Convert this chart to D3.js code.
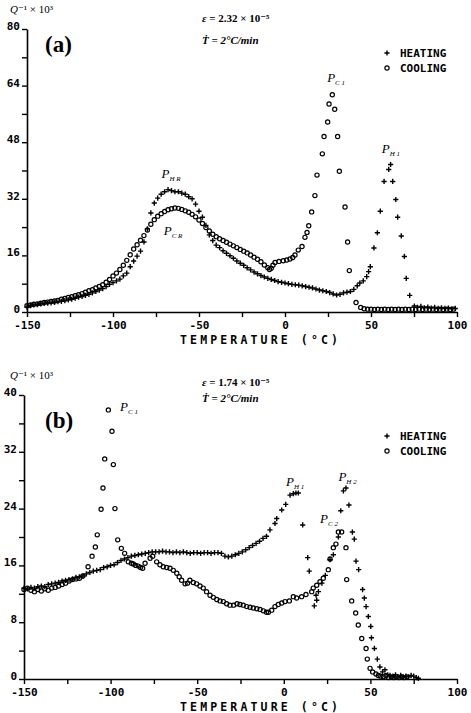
<!DOCTYPE html>
<html>
<head>
<meta charset="utf-8">
<script src="https://d3js.org/d3.v7.min.js"></script>
<style>
body { margin: 0; background: #fff; }
.tick text, .plot-font { font-family: "DejaVu Sans Mono", monospace; font-weight: bold; }
.serif { font-family: "Liberation Serif", "DejaVu Serif", serif; }
</style>
</head>
<body>
<svg id="chart"></svg>
<script>
// panel (a) data : [temperature (C), Q^-1 x 10^3]
var aHeat = [
  [-150,1.4],[-148,1.8],[-146,2.0],[-144,2.1],[-142,2.3],[-140,2.4],[-138,2.5],[-136,2.6],[-134,2.7],[-132,2.9],
  [-130,3.0],[-128,3.2],[-126,3.4],[-124,3.6],[-122,3.9],[-120,4.2],[-118,4.4],[-116,4.7],[-114,5.0],[-112,5.4],
  [-110,5.8],[-108,6.2],[-106,6.6],[-104,7.2],[-102,7.8],[-100,8.3],[-98,8.8],[-96,9.3],[-94,10.2],[-92,11.0],
  [-90,12.8],[-88,14.4],[-86,15.8],[-84,17.2],[-82,19.8],[-80,23.5],[-78,28.0],[-76,30.8],[-74,32.2],[-72,33.3],
  [-70,34.0],[-68,34.6],[-66,34.3],[-64,34.0],[-62,34.0],[-60,33.6],[-58,33.3],[-56,32.6],[-54,32.0],[-52,30.5],
  [-50,28.5],[-48,26.8],[-46,24.5],[-44,21.8],[-42,20.2],[-40,18.9],[-38,18.2],[-36,17.3],[-34,16.6],[-32,15.9],
  [-30,15.2],[-28,14.4],[-26,13.8],[-24,13.2],[-22,12.5],[-20,11.9],[-18,11.3],[-16,10.8],[-14,10.3],[-12,9.9],
  [-10,9.5],[-8,9.2],[-6,8.9],[-4,8.6],[-2,8.4],[0,8.2],[2,8.0],[4,7.8],[6,7.7],[8,7.6],
  [10,7.4],[12,7.2],[14,7.0],[16,6.8],[18,6.5],[20,6.2],[22,6.0],[24,5.8],[26,5.5],[28,5.1],
  [30,4.8],[32,5.0],[34,5.4],[36,5.6],[38,5.8],[40,6.4],[42,7.4],[43.5,8.2],[45.5,8.8],[47.5,10.0],
  [48.6,11.4],[49.6,12.8],[51.7,18.1],[53.7,22.4],[55.4,28.5],[57.6,36.9],[60.3,40.3],[61.4,41.7],[62.6,36.9],[64.4,31.8],
  [65.5,26.8],[67.6,21.5],[69.4,15.7],[70.5,9.5],[72.5,4.7],[75.2,1.7],[77,1.3],[79,1.6],[81,1.2],[83,1.4],
  [85,1.1],[87,1.3],[89,1.0],[91,1.2],[93,1.0],[95,1.1],[97,0.9],[99,1.0]
];
var aCool = [
  [-150,1.8],[-148,2.0],[-146,2.2],[-144,2.3],[-142,2.5],[-140,2.7],[-138,2.8],[-136,3.0],[-134,3.1],[-132,3.3],
  [-130,3.6],[-128,3.8],[-126,4.1],[-124,4.3],[-122,4.6],[-120,4.9],[-118,5.2],[-116,5.6],[-114,6.0],[-112,6.3],
  [-110,6.8],[-108,7.2],[-106,7.7],[-104,8.4],[-102,9.2],[-100,10.2],[-98,11.0],[-96,12.0],[-94,13.2],[-92,14.6],
  [-90,16.2],[-88,17.8],[-86,19.0],[-84,20.3],[-82,21.6],[-80,23.2],[-78,24.8],[-76,26.1],[-74,27.1],[-72,27.8],
  [-70,28.4],[-68,28.9],[-66,29.2],[-64,29.4],[-62,29.3],[-60,29.0],[-58,28.6],[-56,28.2],[-54,27.6],[-52,26.9],
  [-50,26.0],[-48,25.0],[-46,23.9],[-44,22.9],[-42,22.0],[-40,21.3],[-38,20.7],[-36,20.2],[-34,19.7],[-32,19.2],
  [-30,18.7],[-28,18.2],[-26,17.7],[-24,17.2],[-22,16.7],[-20,16.1],[-18,15.5],[-16,14.9],[-14,14.2],[-12,13.3],
  [-10,12.5],[-9,12.0],[-8,12.4],[-7,13.2],[-5.8,14.0],[-3.5,14.3],[-1,14.5],[1,14.7],[2.9,15.0],[4.5,15.4],
  [5.8,16.1],[7.7,17.5],[9.9,18.5],[11.6,21.1],[12.8,22.5],[13.8,24.4],[15.5,28.3],[17.4,32.9],[18.6,38.7],[21.7,44.7],
  [22.7,49.6],[24.8,53.7],[25.6,58.8],[27.5,61.4],[28.9,57.3],[30.6,49.6],[31.6,39.8],[34.9,29.7],[36.4,19.8],[37.4,11.7],
  [41.3,2.7],[44,1.3],[46,0.9],[48,0.8],[50,0.8],[52,0.7],[54,0.8],[56,0.7],[58,0.8],[60,0.7],
  [62,0.8],[64,0.7],[66,0.8],[68,0.7],[70,0.8],[72,0.7],[74,0.8],[76,0.7],[78,0.8],[80,0.7],
  [82,0.8],[84,0.7],[86,0.8],[88,0.7],[90,0.8],[92,0.7],[94,0.8],[96,0.7],[98,0.8]
];

// panel (b) data
var bHeat = [
  [-150,12.8],[-148,12.7],[-146,12.9],[-144,12.8],[-142,13.0],[-140,13.1],[-138,13.0],[-136,13.3],[-134,13.4],[-132,13.5],
  [-130,13.6],[-128,13.8],[-126,13.9],[-124,14.0],[-122,14.1],[-120,14.3],[-118,14.4],[-116,14.5],[-114,14.8],[-112,15.0],
  [-110,15.2],[-108,15.3],[-106,15.4],[-104,15.7],[-102,15.8],[-100,16.0],[-98,16.1],[-96,16.4],[-94,16.7],[-92,16.9],
  [-90,17.1],[-88,17.3],[-86,17.4],[-84,17.5],[-82,17.6],[-80,17.7],[-78,17.8],[-76,17.9],[-74,17.9],[-72,17.9],
  [-70,18.0],[-68,17.9],[-66,17.9],[-64,17.8],[-62,17.9],[-60,17.8],[-58,17.9],[-56,17.8],[-54,17.7],[-52,17.8],
  [-50,17.8],[-48,17.7],[-46,17.8],[-44,17.8],[-42,17.7],[-40,17.8],[-38,17.8],[-36,17.7],[-34,17.3],[-32,17.2],
  [-30,17.3],[-28,17.5],[-26,17.7],[-24,17.9],[-22,18.2],[-20,18.5],[-18,18.8],[-16,19.1],[-14,19.4],[-12,19.8],
  [-10,20.1],[-8,21.0],[-5.1,21.9],[-4.1,22.6],[-1.2,23.8],[1.1,24.6],[3.6,25.9],[5.5,26.1],[7,26.2],[8.4,26.2],
  [10.9,21.7],[13.8,17.1],[14.7,15.2],[17.6,10.3],[18.6,11.8],[19,11.1],[20,12.3],[22,13.5],[24,14.6],[26.7,16.8],
  [28.6,17.5],[31.5,20.0],[32.9,23.7],[34.4,26.5],[35.9,26.9],[37.6,24.5],[39.6,20.7],[40.7,19.7],[41.7,16.6],[43.2,15.4],
  [45.5,12.6],[46.5,11.4],[47.5,10.2],[48.8,8.8],[50.2,7.4],[50.6,5.8],[52.3,4.3],[54,2.8],[55.5,1.7],[57,1.0],
  [58.4,1.3],[60,0.6],[61.3,0.5],[63,0.4],[64.5,0.6],[66,0.3],[67.5,0.5],[69,0.3],[70.5,0.4],[72,0.3],
  [73.5,0.5],[75,0.4],[76.5,0.2],[77.7,0.1]
];
var bCool = [
  [-150,12.6],[-148,12.8],[-146,12.5],[-144,12.3],[-142,12.6],[-140,12.4],[-138,12.7],[-136,12.5],[-134,12.8],[-132,12.9],
  [-130,13.1],[-128,13.3],[-126,13.5],[-124,13.8],[-122,14.0],[-120,14.1],[-118,14.2],[-116,14.5],[-113,15.8],[-110.7,17.3],
  [-108.8,18.6],[-107.7,20.3],[-105.5,23.9],[-104.4,26.9],[-103.4,31.0],[-101.3,37.9],[-99.2,34.9],[-98.4,30.2],[-97.5,24.0],[-95.9,19.6],
  [-93.8,18.4],[-91.9,17.7],[-89.8,16.5],[-88,16.3],[-86.9,16.2],[-85.5,16.0],[-84,15.9],[-82.7,15.7],[-81.5,15.6],[-80.1,16.3],
  [-77.2,17.0],[-75.7,17.3],[-73.4,16.5],[-71.5,16.1],[-69.6,15.8],[-67.6,15.7],[-65.7,15.6],[-63.8,15.3],[-61.8,14.9],[-60.4,14.4],
  [-59,13.9],[-57,13.4],[-55.6,13.5],[-54.2,13.9],[-52.3,13.6],[-50.3,13.4],[-48.4,13.1],[-46.5,12.8],[-44.6,12.3],[-42.6,11.8],
  [-40.7,11.5],[-38.7,11.2],[-36.8,11.0],[-34.9,10.9],[-33,10.6],[-31.1,10.4],[-29,10.4],[-27,10.6],[-25.3,10.5],[-23.4,10.4],
  [-21.4,10.2],[-19.5,10.1],[-17.6,10.0],[-15.6,9.9],[-13.7,9.8],[-11.8,9.6],[-10,9.4],[-8.9,9.4],[-7,9.7],[-5.1,10.2],
  [-3.2,10.5],[-1.2,10.7],[0.7,10.9],[3.2,11.0],[5.5,11.6],[7.4,11.4],[10.3,11.6],[12.8,11.9],[16.1,12.3],[17,12.8],
  [19,13.2],[20.9,13.7],[22.8,14.2],[25.7,15.4],[26.7,16.9],[28.6,18.5],[30.1,19.0],[31.5,20.7],[33.4,20.7],[35.9,18.5],
  [36.3,14.0],[39.2,11.0],[41.5,9.3],[43,7.6],[45,5.7],[47.5,4.3],[48.2,2.8],[49.8,1.5],[51.3,1.0],[53.2,0.7],
  [54.6,0.5],[56,0.4],[57.5,0.3],[59,0.5],[60.5,0.2],[62,0.3],[63.5,0.2],[65,0.3],[66.5,0.2],[68,0.3],[69.5,0.2],[71,0.3]
];

var xTicks = [-150,-125,-100,-75,-50,-25,0,25,50,75,100];

// peak labels: [name, subscript, temperature, value]
var aPeaks = [["P","C 1",29.7,65],["P","H 1",61.6,44.9],["P","H R",-66.3,37.9],["P","C R",-65.1,21.8]];
var bPeaks = [["P","C 1",-89.4,37.7],["P","H 1",6.5,27.2],["P","H 2",36.8,27.9],["P","C 2",26.1,22]];

var width = 471, height = 713;
var svg = d3.select("#chart").attr("width", width).attr("height", height);

var plus = "M-2.6,0H2.6M0,-2.6V2.6";

function drawPanel(p) {
  var x = d3.scaleLinear().domain([-150, 100]).range([p.x0, p.x1]);
  var y = d3.scaleLinear().domain([0, p.yMax]).range([p.y0, p.y1]);
  var g = svg.append("g");

  // x axis
  var xa = g.append("g")
    .attr("transform", "translate(0," + p.y0 + ")")
    .call(d3.axisBottom(x).tickValues(xTicks).tickSize(5).tickSizeOuter(0).tickPadding(4)
      .tickFormat(function(d) { return d % 50 === 0 ? String(d) : ""; }));
  // y axis
  var yTicks = d3.range(0, p.yMax + 0.1, p.yStep);
  var ya = g.append("g")
    .attr("transform", "translate(" + p.x0 + ",0)")
    .call(d3.axisLeft(y).tickValues(yTicks).tickSize(5).tickSizeOuter(0).tickPadding(2)
      .tickFormat(function(d) { return d % p.yLabel === 0 ? String(d) : ""; }));
  [xa, ya].forEach(function(a) {
    a.select(".domain").attr("stroke", "#000").attr("stroke-width", 1.6);
    a.selectAll(".tick line").attr("stroke", "#000").attr("stroke-width", 1.4);
    a.selectAll(".tick text").attr("fill", "#000").style("font-size", "11px");
  });
  ya.selectAll(".tick text").attr("dy", "0.05em");

  // axis title
  g.append("text").attr("class", "plot-font")
    .attr("x", 259).attr("y", p.y0 + 32)
    .attr("text-anchor", "middle")
    .attr("textLength", 158).attr("lengthAdjust", "spacing")
    .style("font-size", "11.5px")
    .text("TEMPERATURE (°C)");

  // heating +
  g.append("g").selectAll("path")
    .data(p.heat).enter().append("path")
    .attr("transform", function(d) { return "translate(" + x(d[0]) + "," + y(d[1]) + ")"; })
    .attr("d", plus)
    .attr("stroke", "#000").attr("stroke-width", 1.4).attr("fill", "none");

  // cooling o
  g.append("g").selectAll("circle")
    .data(p.cool).enter().append("circle")
    .attr("cx", function(d) { return x(d[0]); })
    .attr("cy", function(d) { return y(d[1]); })
    .attr("r", 2.1)
    .attr("stroke", "#000").attr("stroke-width", 1.2).attr("fill", "none");

  // peak labels
  p.peaks.forEach(function(k) {
    var t = g.append("text").attr("class", "serif")
      .attr("x", x(k[2])).attr("y", y(k[3]))
      .attr("text-anchor", "middle")
      .style("font-size", "13px").style("font-style", "italic");
    t.append("tspan").text(k[0]);
    t.append("tspan").attr("dy", 3).style("font-size", "7px").text(k[1]);
  });

  // y title
  g.append("text").attr("class", "serif")
    .attr("x", 10).attr("y", p.qY)
    .style("font-size", "11px")
    .html('<tspan font-style="italic">Q</tspan>⁻¹ × 10³');

  // panel letter
  g.append("text").attr("class", "serif")
    .attr("x", 45).attr("y", p.letterY)
    .style("font-size", "23px").style("font-weight", "bold")
    .text(p.letter);

  // conditions
  g.append("text").attr("class", "serif")
    .attr("x", 202).attr("y", p.epsY)
    .style("font-size", "11px").style("font-weight", "bold")
    .html('<tspan font-style="italic">ε</tspan> = ' + p.eps + ' × 10⁻⁵');
  g.append("text").attr("class", "serif")
    .attr("x", 202).attr("y", p.epsY + 22 - p.lineGap)
    .style("font-size", "11px").style("font-weight", "bold").style("font-style", "italic")
    .text("Ṫ = 2°C/min");

  // legend
  g.append("path")
    .attr("transform", "translate(387," + p.legY + ")")
    .attr("d", plus)
    .attr("stroke", "#000").attr("stroke-width", 1.4);
  g.append("circle")
    .attr("cx", 387).attr("cy", p.legY + 15).attr("r", 2.1)
    .attr("stroke", "#000").attr("stroke-width", 1.2).attr("fill", "none");
  g.append("text").attr("class", "plot-font")
    .attr("x", 400).attr("y", p.legY + 4)
    .style("font-size", "11px").text("HEATING");
  g.append("text").attr("class", "plot-font")
    .attr("x", 400).attr("y", p.legY + 19)
    .style("font-size", "11px").text("COOLING");
}

drawPanel({
  x0: 27, x1: 457, y0: 312, y1: 29, yMax: 80, yStep: 8, yLabel: 16,
  heat: aHeat, cool: aCool, peaks: aPeaks,
  qY: 13, letter: "(a)", letterY: 52, eps: "2.32", epsY: 22, lineGap: 0, legY: 53
});
drawPanel({
  x0: 24, x1: 457, y0: 679, y1: 395, yMax: 40, yStep: 4, yLabel: 8,
  heat: bHeat, cool: bCool, peaks: bPeaks,
  qY: 379, letter: "(b)", letterY: 428, eps: "1.74", epsY: 386, lineGap: 6, legY: 436
});
</script>
</body>
</html>
